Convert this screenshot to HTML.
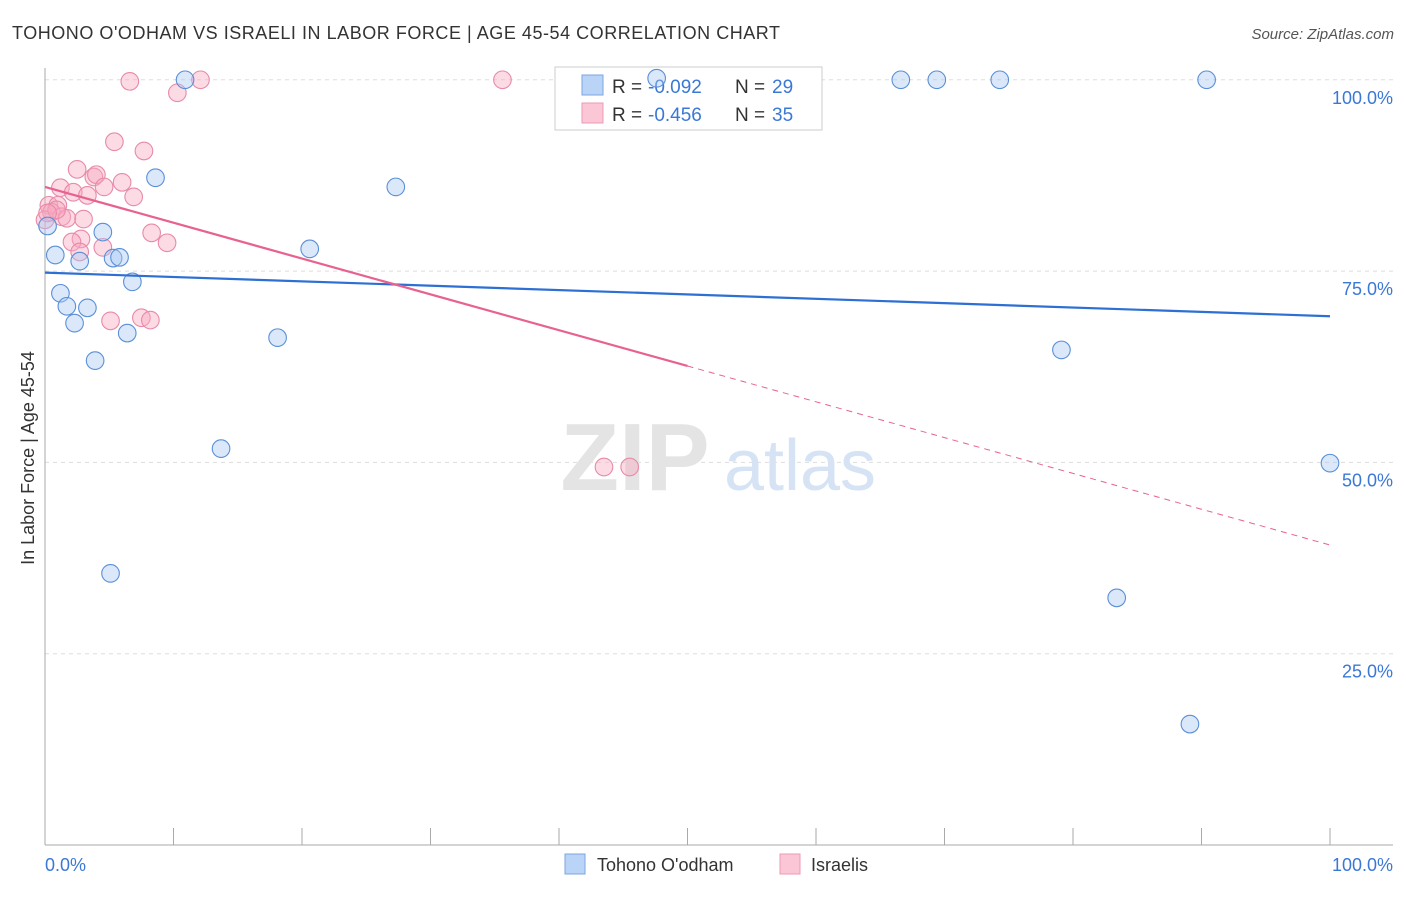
<!DOCTYPE html>
<html><head><meta charset="utf-8"><style>
body{margin:0;background:#fff;font-family:"Liberation Sans",sans-serif;}
svg text{font-family:"Liberation Sans",sans-serif;}
</style></head><body>
<svg id="chart" width="1406" height="892">
<text x="12" y="39" font-size="18" fill="#333" textLength="768" lengthAdjust="spacing">TOHONO O'ODHAM VS ISRAELI IN LABOR FORCE | AGE 45-54 CORRELATION CHART</text>
<text x="1394" y="39" font-size="15" fill="#555" font-style="italic" text-anchor="end">Source: ZipAtlas.com</text>
<text x="34" y="458" font-size="18" fill="#333" text-anchor="middle" transform="rotate(-90 34 458)">In Labor Force | Age 45-54</text>
<g id="grid"></g>
<g>
<text x="635" y="490" font-size="96" fill="#e4e4e4" text-anchor="middle" font-family="Liberation Serif" font-weight="bold">ZIP</text>
<text x="800" y="490" font-size="72" fill="#d5e3f5" text-anchor="middle">atlas</text>
</g>
<g>
<rect x="555" y="67" width="267" height="63" fill="#fff" stroke="#ccc"/>
<rect x="582" y="75" width="21" height="20" fill="#b9d4f6" stroke="#7aa6e0"/>
<rect x="582" y="103" width="21" height="20" fill="#fbc7d6" stroke="#ee9ab3"/>
<text x="612" y="93" font-size="19" fill="#333">R =</text>
<text x="648" y="93" font-size="19" fill="#3a78d6">-0.092</text>
<text x="735" y="93" font-size="19" fill="#333">N =</text>
<text x="772" y="93" font-size="19" fill="#3a78d6">29</text>
<text x="612" y="121" font-size="19" fill="#333">R =</text>
<text x="648" y="121" font-size="19" fill="#3a78d6">-0.456</text>
<text x="735" y="121" font-size="19" fill="#333">N =</text>
<text x="772" y="121" font-size="19" fill="#3a78d6">35</text>
</g>
<g id="marks"></g>
<g>
<rect x="565" y="854" width="20" height="20" fill="#b9d4f6" stroke="#7aa6e0"/>
<text x="597" y="871" font-size="18" fill="#333">Tohono O'odham</text>
<rect x="780" y="854" width="20" height="20" fill="#fbc7d6" stroke="#ee9ab3"/>
<text x="811" y="871" font-size="18" fill="#333">Israelis</text>
</g>
</svg>
<script>
const yTicks=[100,75,50,25];
const yTickLabels=["100.0%","75.0%","50.0%","25.0%"];
const xTickLabels=["0.0%","100.0%"];
const blueX=[10.9,47.6,66.6,69.4,74.3,90.4,8.6,27.3,0.2,4.5,20.6,0.8,2.7,5.3,5.8,6.8,1.2,1.7,3.3,2.3,6.4,18.1,3.9,13.7,5.1,79.1,83.4,89.1,100];
const blueY=[100,100.2,100,100,100,100,87.2,86.0,80.9,80.1,77.9,77.1,76.3,76.7,76.8,73.6,72.1,70.4,70.2,68.2,66.9,66.3,63.3,51.8,35.5,64.7,32.3,15.8,49.9];
const pinkX=[6.6,12.1,35.6,10.3,5.4,7.7,2.5,3.8,4.0,6.0,4.6,1.2,2.2,3.3,6.9,0.3,1.0,0.5,1.3,1.7,3.0,0,8.3,2.8,2.1,9.5,4.5,2.7,5.1,7.5,8.2,43.5,45.5,0.9,0.2];
const pinkY=[99.8,100,100,98.3,91.9,90.7,88.3,87.3,87.6,86.6,86.0,85.9,85.3,84.9,84.7,83.6,83.6,82.7,82.1,81.9,81.8,81.7,80.0,79.2,78.8,78.7,78.1,77.5,68.5,68.9,68.6,49.4,49.4,83.0,82.6];
const blueTrend=[74.8,69.1];
const pinkTrend=[86.0,39.2];
const pinkSolidEnd=50;
const NS="http://www.w3.org/2000/svg";
const sx=v=>45+v*12.85, sy=v=>845-v*7.652;
const grid=document.getElementById('grid'), marks=document.getElementById('marks');
function mk(tag,attrs,parent){const e=document.createElementNS(NS,tag);for(const k in attrs)e.setAttribute(k,attrs[k]);parent.appendChild(e);return e;}
yTicks.forEach((t,i)=>{
 const l=mk('line',{x1:45,x2:1393,y1:sy(t),y2:sy(t),stroke:'#ddd','stroke-dasharray':'4 4'},grid);
 
 
 const tx=mk('text',{x:1393,y:sy(t)+24,'font-size':18,fill:'#3a78d6','text-anchor':'end'},grid);
 tx.textContent=yTickLabels[i];
 
 
});
const ax=mk('line',{x1:45,x2:1393,y1:845,y2:845,stroke:'#aaa'},grid);


const ay=mk('line',{x1:45,x2:45,y1:68,y2:845,stroke:'#aaa'},grid);


for(let i=0;i<=10;i++){
 const t=mk('line',{x1:sx(i*10),x2:sx(i*10),y1:828,y2:845,stroke:'#aaa'},grid);
 
 
}
[[0,'start',45],[100,'end',1393]].forEach((d,i)=>{
 const tx=mk('text',{x:d[2],y:871,'font-size':18,fill:'#3a78d6','text-anchor':d[1]},grid);
 tx.textContent=xTickLabels[i];
 
 
});
function pts(xs,ys,fill,stroke,name){
 xs.forEach((x,i)=>{
  const c=mk('circle',{cx:sx(x),cy:sy(ys[i]),r:8.8,fill:fill,'fill-opacity':0.42,stroke:stroke,'stroke-width':1.1},marks);
  
  
 });
}
pts(pinkX,pinkY,'#f7a9c0','#e88aa8','israelis-point');
pts(blueX,blueY,'#a9c8f2','#5a8fd8','tohono-point');
const bl=mk('line',{x1:sx(0),y1:sy(blueTrend[0]),x2:sx(100),y2:sy(blueTrend[1]),stroke:'#2d6fd3','stroke-width':2.2},marks);


const py=x=>pinkTrend[0]+(pinkTrend[1]-pinkTrend[0])*x/100;
const pl=mk('line',{x1:sx(0),y1:sy(py(0)),x2:sx(pinkSolidEnd),y2:sy(py(pinkSolidEnd)),stroke:'#e8628f','stroke-width':2.2},marks);


const pd=mk('line',{x1:sx(pinkSolidEnd),y1:sy(py(pinkSolidEnd)),x2:sx(100),y2:sy(py(100)),stroke:'#e8628f','stroke-width':1,'stroke-dasharray':'6 5'},marks);


</script>
</body></html>
